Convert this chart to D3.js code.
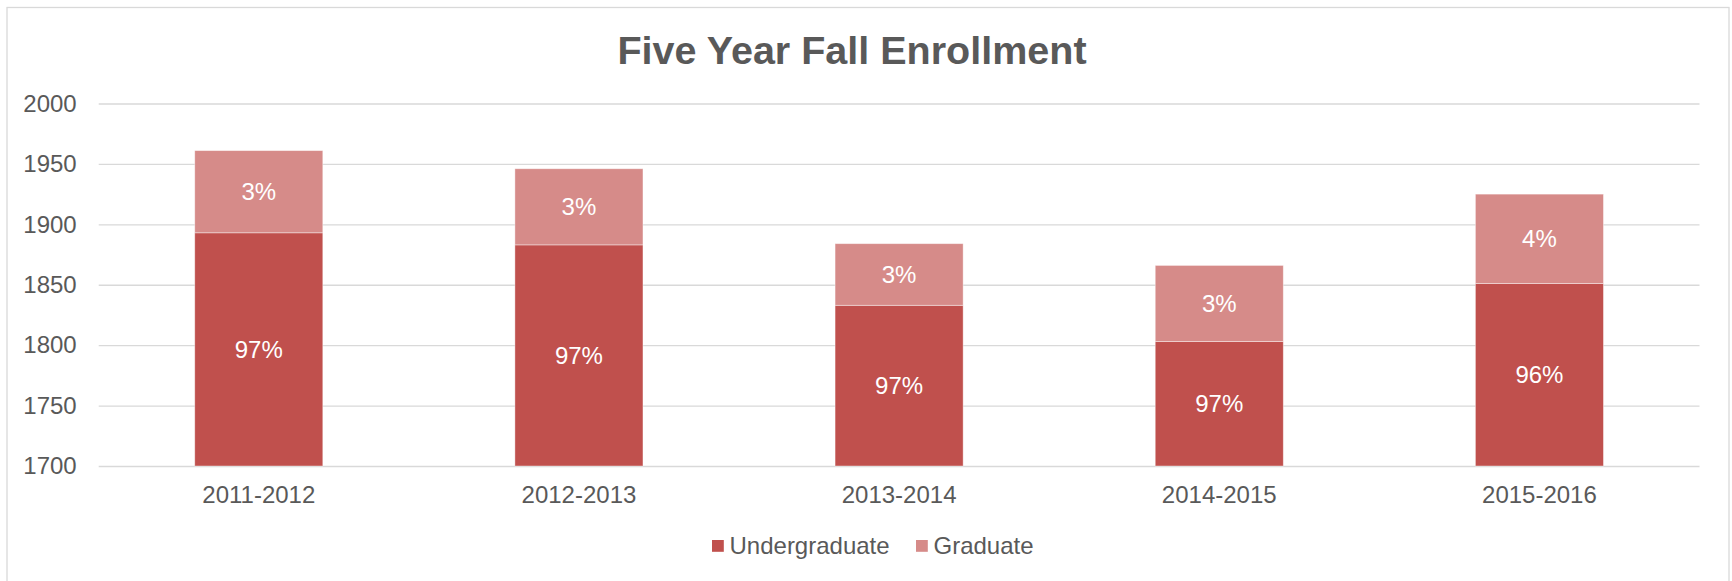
<!DOCTYPE html>
<html>
<head>
<meta charset="utf-8">
<title>Five Year Fall Enrollment</title>
<script src="https://d3js.org/d3.v7.min.js"></script>
<style>
    body { margin: 0; background: #fff; }
    text { font-family: "Liberation Sans", Arial, sans-serif; }
</style>
</head>
<body>
<div id="chart"></div>
<script>
// data
var years = ["2011-2012", "2012-2013", "2013-2014", "2014-2015", "2015-2016"];
var undergrad = [1893, 1883, 1833, 1803, 1851];
var graduate = [68, 63, 51, 63, 74];
var yTicks = [1700, 1750, 1800, 1850, 1900, 1950, 2000];
var seriesNames = ["Undergraduate", "Graduate"];
var seriesColors = ["#c0504d", "#d68b89"];

function drawChart() {
    var w = 1732;
    var h = 581;
    var left = 98.7, right = 1699.5, top = 103.5, bottom = 466;
    var fontSize = "24px";

    var svg = d3.select("#chart")
        .append("svg")
        .attr("width", w)
        .attr("height", h);

    // outer frame
    svg.append("rect")
        .attr("x", 7).attr("y", 7.5)
        .attr("width", 1722).attr("height", 620)
        .attr("fill", "none")
        .attr("stroke", "#d9d9d9")
        .attr("stroke-width", 1.3);

    svg.append("text")
        .attr("x", 852).attr("y", 64)
        .attr("text-anchor", "middle")
        .attr("fill", "#595959")
        .style("font-size", "39.5px")
        .style("font-weight", "bold")
        .text("Five Year Fall Enrollment");

    var x = d3.scaleBand()
        .domain(years)
        .range([left, right])
        .paddingInner(0.6)
        .paddingOuter(0.3);

    var y = d3.scaleLinear()
        .domain([1700, 2000])
        .range([bottom, top]);

    // gridlines + y labels
    var yAxis = d3.axisLeft(y)
        .tickValues(yTicks)
        .tickFormat(d3.format("d"))
        .tickSize(-(right - left))
        .tickPadding(22);

    var gy = svg.append("g")
        .attr("transform", "translate(" + left + ",0)")
        .call(yAxis);
    gy.select(".domain").remove();
    gy.selectAll("line").attr("stroke", "#d9d9d9").attr("stroke-width", 1.3);
    gy.selectAll("text")
        .attr("fill", "#595959")
        .style("font-size", fontSize)
        .style("font-family", "'Liberation Sans', Arial, sans-serif");

    // x labels
    var xAxis = d3.axisBottom(x).tickSize(0).tickPadding(20);
    var gx = svg.append("g")
        .attr("transform", "translate(0," + bottom + ")")
        .call(xAxis);
    gx.select(".domain").remove();
    gx.selectAll("text")
        .attr("fill", "#595959")
        .style("font-size", fontSize)
        .style("font-family", "'Liberation Sans', Arial, sans-serif");

    var rows = years.map(function(d, i) {
        return { year: d, Undergraduate: undergrad[i], Graduate: graduate[i] };
    });
    var stack = d3.stack().keys(seriesNames);
    var layers = stack(rows);

    var g = svg.selectAll(".layer")
        .data(layers)
        .enter()
        .append("g")
        .attr("fill", function(d, i) { return seriesColors[i]; });

    g.selectAll("rect")
        .data(function(d) { return d; })
        .enter()
        .append("rect")
        .attr("x", function(d) { return x(d.data.year); })
        .attr("width", x.bandwidth())
        .attr("y", function(d) { return y(d[1]); })
        .attr("height", function(d) { return y(Math.max(d[0], 1700)) - y(d[1]); })
        .attr("stroke", "rgba(255,255,255,0.5)")
        .attr("stroke-width", 0.8);

    // percent labels, centred on the visible part of each segment
    g.selectAll("text")
        .data(function(d) { return d; })
        .enter()
        .append("text")
        .attr("x", function(d) { return x(d.data.year) + x.bandwidth() / 2; })
        .attr("y", function(d) {
            return (y(Math.max(d[0], 1700)) + y(d[1])) / 2 + 8.5;
        })
        .attr("text-anchor", "middle")
        .attr("fill", "#fff")
        .style("font-size", fontSize)
        .text(function(d) {
            var total = d.data.Undergraduate + d.data.Graduate;
            return Math.round((d[1] - d[0]) / total * 100) + "%";
        });

    // legend
    var legendX = [712, 916];
    var lg = svg.selectAll(".legend")
        .data(seriesNames)
        .enter()
        .append("g")
        .attr("transform", function(d, i) { return "translate(" + legendX[i] + ",540)"; });
    lg.append("rect")
        .attr("width", 11.8).attr("height", 11.8)
        .attr("fill", function(d, i) { return seriesColors[i]; });
    lg.append("text")
        .attr("x", 17.5).attr("y", 14)
        .attr("fill", "#595959")
        .style("font-size", fontSize)
        .text(function(d) { return d; });
}

drawChart();
</script>
</body>
</html>
